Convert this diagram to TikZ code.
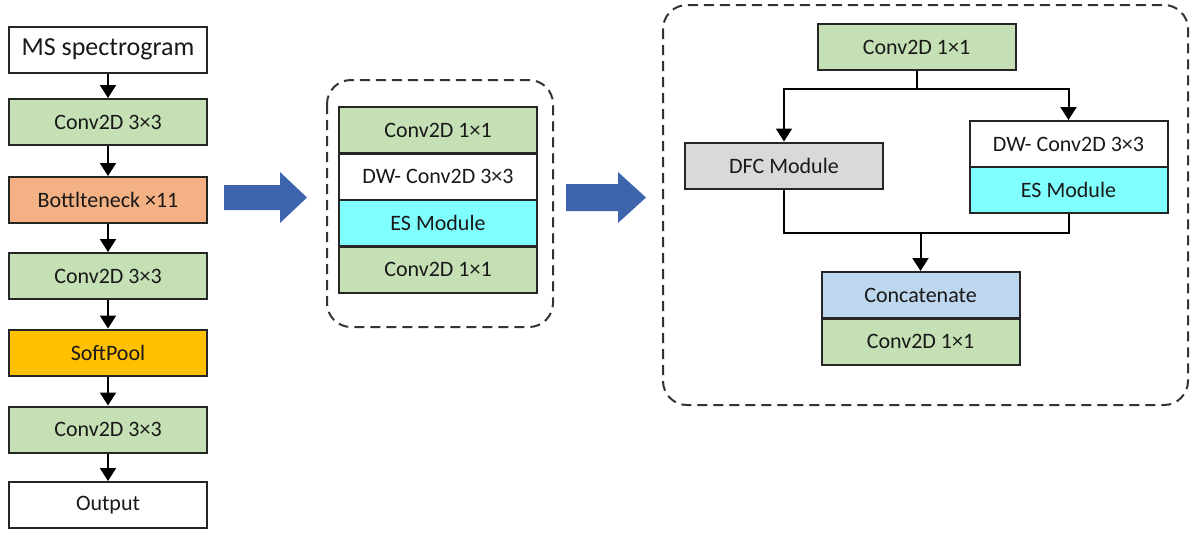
\documentclass[tikz,border=0pt]{standalone}
\usepackage{fontspec}
\setmainfont{Carlito}
\usetikzlibrary{arrows.meta}
\definecolor{convgreen}{HTML}{C5E0B4}
\definecolor{bneck}{HTML}{F4B183}
\definecolor{poolgold}{HTML}{FFC000}
\definecolor{escyan}{HTML}{80FFFF}
\definecolor{dfcgray}{HTML}{D9D9D9}
\definecolor{catblue}{HTML}{BDD7EE}
\definecolor{flowblue}{HTML}{3F64AE}
\tikzset{
  blk/.style={draw=black!85, line width=1pt, minimum width=99pt, minimum height=23pt,
    inner sep=0pt, font=\fontsize{11}{13}\selectfont, text=black!90},
  link/.style={line width=1pt, draw=black},
  arr/.style={link, -{Triangle[width=8pt,length=6.5pt]}},
  frame/.style={line width=1pt, draw=black!80, dash pattern=on 5pt off 3pt, rounded corners=12pt},
  bigarrow/.style={fill=flowblue, draw=none}
}
\begin{document}
\begin{tikzpicture}[x=0.5pt,y=-0.5pt]
\useasboundingbox (0,0) rectangle (1190,532);

% main pipeline
\node[blk, fill=white, font=\fontsize{13}{15}\selectfont] (ms) at (108,49.5) {MS spectrogram};
\node[blk, fill=convgreen] (c1) at (108,122) {Conv2D 3×3};
\node[blk, fill=bneck] (bn) at (108,200) {Bottlteneck ×11};
\node[blk, fill=convgreen] (c2) at (108,276) {Conv2D 3×3};
\node[blk, fill=poolgold] (sp) at (108,352.5) {SoftPool};
\node[blk, fill=convgreen] (c3) at (108,429.5) {Conv2D 3×3};
\node[blk, fill=white] (out) at (108,505) {Output};
\draw[arr] (ms) -- (c1);
\draw[arr] (c1) -- (bn);
\draw[arr] (bn) -- (c2);
\draw[arr] (c2) -- (sp);
\draw[arr] (sp) -- (c3);
\draw[arr] (c3) -- (out);

% expansion arrows
\fill[bigarrow] (224,185) -- (280,185) -- (280,172) -- (307,197.5) -- (280,223) -- (280,210) -- (224,210) -- cycle;
\fill[bigarrow] (566,184) -- (618,184) -- (618,172) -- (646,197.5) -- (618,223) -- (618,211) -- (566,211) -- cycle;

% bottleneck block
\draw[frame] (327,80) rectangle (553,327);
\node[blk, fill=convgreen] (b1) at (438,130.25) {Conv2D 1×1};
\node[blk, fill=white] (b2) at (438,176.75) {DW- Conv2D 3×3};
\node[blk, fill=escyan] (b3) at (438,223.25) {ES Module};
\node[blk, fill=convgreen] (b4) at (438,269.75) {Conv2D 1×1};

% ES/DFC detail
\draw[frame] (663,5) rectangle (1188,405);
\node[blk, fill=convgreen] (t1) at (916.5,47) {Conv2D 1×1};
\node[blk, fill=dfcgray] (dfc) at (784,165.5) {DFC Module};
\node[blk, fill=white] (dw) at (1068.5,144) {DW- Conv2D 3×3};
\node[blk, fill=escyan] (es) at (1068.5,190) {ES Module};
\node[blk, fill=catblue] (cat) at (920.5,295) {Concatenate};
\node[blk, fill=convgreen] (t2) at (920.5,341.5) {Conv2D 1×1};

\coordinate (split) at (916.5,89);
\coordinate (merge) at (920.5,233);
\draw[link] (t1.south) -- (split);
\draw[arr] (split) -| (dfc.north);
\draw[arr] (split) -| (dw.north);
\draw[link] (dfc.south) |- (merge);
\draw[link] (es.south) |- (merge);
\draw[arr] (merge) -- (cat.north);
\end{tikzpicture}
\end{document}
